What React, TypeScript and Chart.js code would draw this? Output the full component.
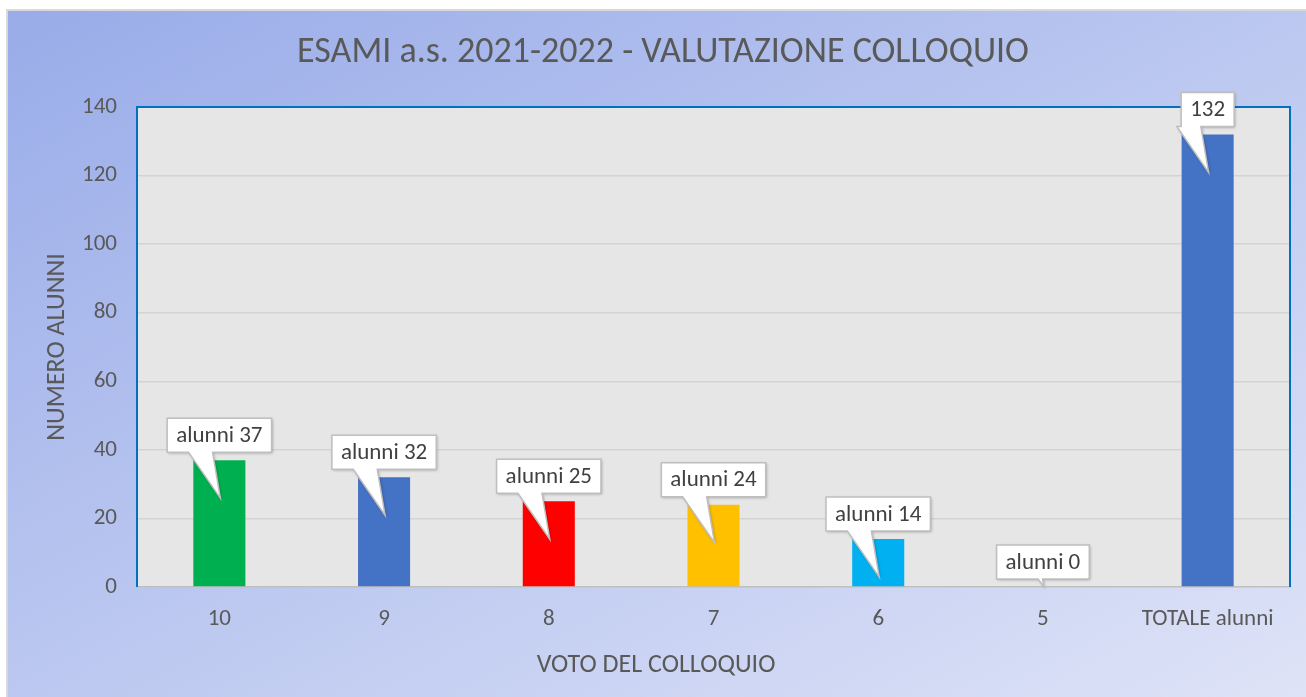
import React, { useEffect, useRef } from "react";
import { Chart, registerables } from "chart.js";

Chart.register(...registerables);

const categories = ["10", "9", "8", "7", "6", "5", "TOTALE alunni"];
const values = [37, 32, 25, 24, 14, 0, 132];
const labelPrefixes = ["alunni ", "alunni ", "alunni ", "alunni ", "alunni ", "alunni ", ""];
const barColors = ["#00B050", "#4472C4", "#FF0000", "#FFC000", "#00B0F0", "#A5A5A5", "#4472C4"];
const yMin = 0;
const yMax = 140;
const yStep = 20;
const chartTitle = "ESAMI a.s. 2021-2022 - VALUTAZIONE COLLOQUIO";
const xTitle = "VOTO DEL COLLOQUIO";
const yTitle = "NUMERO ALUNNI";

const FONT = "Carlito, Lato, sans-serif";
const TEXT = "#595959";

const decorPlugin = {
  id: "decor",
  beforeDraw(chart: any) {
    const { ctx, chartArea: a } = chart;
    ctx.save();
    ctx.fillStyle = "#E6E6E6";
    ctx.fillRect(a.left, a.top, a.right - a.left, a.bottom - a.top);
    ctx.restore();
  },
  afterDatasetsDraw(chart: any) {
    const { ctx, chartArea: a } = chart;
    ctx.save();
    // plot border (left, top, right)
    ctx.strokeStyle = "#0070C0";
    ctx.lineWidth = 2;
    ctx.beginPath();
    ctx.moveTo(a.left, a.bottom);
    ctx.lineTo(a.left, a.top);
    ctx.lineTo(a.right, a.top);
    ctx.lineTo(a.right, a.bottom);
    ctx.stroke();

    // callouts
    const meta = chart.getDatasetMeta(0);
    ctx.font = `23px ${FONT}`;
    meta.data.forEach((bar: any, i: number) => {
      const { x, y, base } = bar.getProps(["x", "y", "base"], true);
      const text = labelPrefixes[i] + values[i];
      const tw = ctx.measureText(text).width;
      const w = Math.max(tw + 18, 52);
      const h = 34;
      const boxBottom = y - 8;
      const top = boxBottom - h;
      const left = x - w / 2;
      const right = left + w;
      const tipX = x + 1;
      const tipY = Math.min(y + 38, base);
      const len = tipY - boxBottom;
      const tailW = Math.min(24, len * 0.55);
      const rEnd = tipX - len * 0.17;
      const lEnd = rEnd - tailW;

      ctx.save();
      ctx.beginPath();
      ctx.moveTo(left, top);
      ctx.lineTo(right, top);
      ctx.lineTo(right, boxBottom);
      ctx.lineTo(rEnd, boxBottom);
      ctx.lineTo(tipX, tipY);
      ctx.lineTo(lEnd, boxBottom);
      ctx.lineTo(left, boxBottom);
      ctx.closePath();
      ctx.shadowColor = "rgba(0,0,0,0.3)";
      ctx.shadowBlur = 3;
      ctx.shadowOffsetX = 1;
      ctx.shadowOffsetY = 1;
      ctx.fillStyle = "#FFFFFF";
      ctx.fill();
      ctx.shadowColor = "transparent";
      ctx.strokeStyle = "#BFBFBF";
      ctx.lineWidth = 1.5;
      ctx.stroke();
      ctx.restore();

      ctx.fillStyle = "#404040";
      ctx.textAlign = "center";
      ctx.textBaseline = "middle";
      ctx.fillText(text, x, top + h / 2 + 1);
    });
    ctx.restore();
  },
  afterDraw(chart: any) {
    const { ctx, chartArea: a } = chart;
    ctx.save();
    ctx.fillStyle = TEXT;
    ctx.textAlign = "center";
    ctx.textBaseline = "middle";
    ctx.font = `36px ${FONT}`;
    ctx.fillText(chartTitle, 663, 53);
    ctx.font = `26px ${FONT}`;
    ctx.fillText(xTitle, 656, 665);
    ctx.translate(57, (a.top + a.bottom) / 2);
    ctx.rotate(-Math.PI / 2);
    ctx.fillText(yTitle, 0, 0);
    ctx.restore();
  },
};

export default function App() {
  const ref = useRef<HTMLCanvasElement | null>(null);

  useEffect(() => {
    document.body.style.margin = "0";
    const canvas = ref.current;
    if (!canvas) return;
    const chart = new Chart(canvas, {
      type: "bar",
      data: {
        labels: categories,
        datasets: [
          {
            data: values,
            backgroundColor: barColors,
            borderWidth: 0,
            barPercentage: 0.316,
            categoryPercentage: 1,
          },
        ],
      },
      options: {
        animation: false,
        responsive: false,
        maintainAspectRatio: false,
        layout: { padding: { left: 0, top: 107, right: 16, bottom: 0 } },
        plugins: {
          legend: { display: false },
          title: { display: false },
          tooltip: { enabled: false },
        },
        scales: {
          x: {
            grid: { display: false },
            border: { display: true, color: "#BFBFBF", width: 1.5 },
            ticks: {
              color: TEXT,
              font: { family: FONT, size: 23 },
              padding: 10,
              maxRotation: 0,
              autoSkip: false,
            },
            afterFit(scale: any) {
              scale.height = 110;
            },
          },
          y: {
            min: yMin,
            max: yMax,
            grid: {
              color: (c: any) =>
                c.tick && (c.tick.value === yMin || c.tick.value === yMax) ? "rgba(0,0,0,0)" : "#D3D3D3",
              lineWidth: 1.5,
              drawTicks: false,
            },
            border: { display: false },
            ticks: {
              stepSize: yStep,
              color: TEXT,
              font: { family: FONT, size: 23 },
              padding: 20,
            },
            afterFit(scale: any) {
              scale.width = 137;
            },
          },
        },
      },
      plugins: [decorPlugin],
    });
    return () => chart.destroy();
  }, []);

  return (
    <div style={{ position: "fixed", left: 0, top: 0, width: 1306, height: 697, overflow: "hidden", background: "#FFFFFF" }}>
      <div
        style={{
          position: "absolute",
          left: 6,
          top: 9,
          width: 1300,
          height: 688,
          boxSizing: "border-box",
          borderLeft: "2px solid #D9D9D9",
          borderTop: "2px solid #D9D9D9",
          background: "linear-gradient(to bottom right, #99ACE9, #DEE3F7)",
        }}
      />
      <canvas ref={ref} width={1306} height={697} style={{ position: "absolute", left: 0, top: 0, width: 1306, height: 697 }} />
    </div>
  );
}
